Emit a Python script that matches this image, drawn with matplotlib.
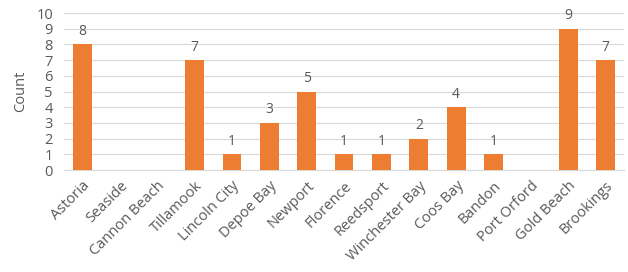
import matplotlib.pyplot as plt
import numpy as np

towns = ['Astoria', 'Seaside', 'Cannon Beach', 'Tillamook', 'Lincoln City',
         'Depoe Bay', 'Newport', 'Florence', 'Reedsport', 'Winchester Bay',
         'Coos Bay', 'Bandon', 'Port Orford', 'Gold Beach', 'Brookings']
counts = [8, 0, 0, 7, 1, 3, 5, 1, 1, 2, 4, 1, 0, 9, 7]

plt.rcParams['font.family'] = ['Open Sans', 'DejaVu Sans']
text_color = '#595959'

fig = plt.figure(figsize=(6.28, 2.72), dpi=100)
ax = fig.add_axes([0.102, 0.375, 0.892, 0.577])

x = np.arange(len(towns))
bars = ax.bar(x, counts, width=0.5, color='#ED7D31', zorder=3)

for xi, c in zip(x, counts):
    if c > 0:
        ax.text(xi, c + 0.35, str(c), ha='center', va='bottom',
                fontsize=10, color=text_color)

ax.set_xlim(-0.5, len(towns) - 0.5)
ax.set_ylim(0, 10)
ax.set_yticks(range(0, 11))
ax.yaxis.grid(True, color='#D9D9D9', linewidth=0.8, zorder=0)
ax.set_xticks(x)
ax.set_xticklabels(towns, rotation=45, ha='right', rotation_mode='anchor',
                   fontsize=10.5, color=text_color)
ax.tick_params(axis='y', labelsize=10.5, labelcolor=text_color, length=0, pad=8)
ax.tick_params(axis='x', length=0, pad=6)
ax.set_ylabel('Count', fontsize=10.5, color=text_color, labelpad=6)

for s in ['top', 'right', 'left']:
    ax.spines[s].set_visible(False)
ax.spines['bottom'].set_color('#D9D9D9')

fig.savefig('out.png', dpi=100)
